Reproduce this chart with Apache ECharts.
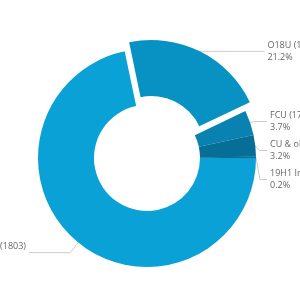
<!DOCTYPE html>
<html>
<head>
<meta charset="utf-8">
<script src="https://cdn.jsdelivr.net/npm/echarts@6/dist/echarts.min.js"></script>
<style>html,body{margin:0;padding:0;background:#fff;}#c{width:300px;height:300px;}</style>
</head>
<body>
<div id="c"></div>
<script>
var categories = ['(1803)', 'O18U (1 …)', 'FCU (17 …)', 'CU & ol …', '19H1 In …'];
var values = [1803, 533, 93, 80, 5];
var colors = ['#0aa2d6', '#0892c3', '#0a82b1', '#066e97', '#0a6a90'];

var chart = echarts.init(document.getElementById('c'), null, {renderer: 'canvas'});
var data = categories.map(function (n, i) {
  var item = {name: n, value: values[i], itemStyle: {color: colors[i]}};
  if (i === 0) {
    item.label = {edgeDistance: -74};
    item.labelLine = {length: 13, length2: 20};
  } else if (i === 1) {
    item.selected = true;
    item.label = {edgeDistance: -63};
    item.labelLine = {length: 0, length2: 20};
  } else {
    item.label = {edgeDistance: -70};
    item.labelLine = {length: 4, length2: 5};
  }
  return item;
});
chart.setOption({
  animation: false,
  series: [{
    type: 'pie',
    center: [147, 158],
    radius: [53, 109],
    startAngle: 0,
    clockwise: true,
    selectedMode: 'single',
    selectedOffset: 10,
    percentPrecision: 1,
    avoidLabelOverlap: true,
    data: data,
    label: {
      show: true,
      position: 'outside',
      alignTo: 'edge',
      width: 100,
      overflow: 'none',
      distanceToLabelLine: 3,
      padding: [2, 0, 2, 0],
      fontFamily: 'Open Sans',
      fontSize: 9,
      color: '#666666',
      lineHeight: 11.5,
      formatter: function (p) {
        if (p.dataIndex === 0) {
          return '{r|' + p.name + '}\n{l|' + p.percent.toFixed(1) + '%}';
        }
        return '{l|' + p.name + '}\n{l|' + p.percent.toFixed(1) + '%}';
      },
      rich: {
        l: {align: 'left', fontFamily: 'Open Sans', fontSize: 9, color: '#666666', lineHeight: 11.5},
        r: {align: 'right', fontFamily: 'Open Sans', fontSize: 9, color: '#666666', lineHeight: 11.5}
      }
    },
    labelLine: {
      show: true,
      lineStyle: {color: '#cccccc', width: 1}
    },
    emphasis: {disabled: true}
  }]
});
</script>
</body>
</html>
